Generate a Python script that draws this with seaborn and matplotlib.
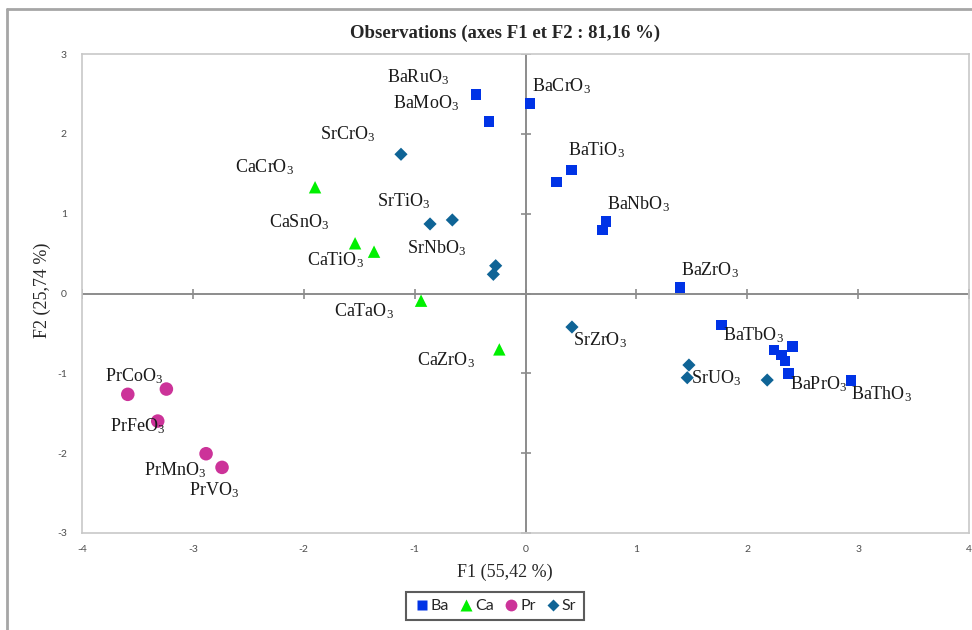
import numpy as np
import pandas as pd
import matplotlib
matplotlib.use("Agg")
import matplotlib.pyplot as plt
import seaborn as sns
from matplotlib.lines import Line2D

# ---------------- data ----------------
ba_f1 = [-0.446, 0.041, -0.329, 0.417, 0.281, 0.726, 0.696, 1.393, 1.767, 2.241, 2.310, 2.410, 2.340, 2.370, 2.935]
ba_f2 = [2.496, 2.383, 2.153, 1.548, 1.397, 0.900, 0.796, 0.073, -0.395, -0.708, -0.771, -0.667, -0.846, -1.000, -1.093]
ba_names = ["BaRuO3", "BaCrO3", "BaMoO3", "BaTiO3", "", "BaNbO3", "", "BaZrO3", "BaTbO3", "", "", "", "", "BaPrO3", "BaThO3"]

ca_f1 = [-1.898, -1.537, -1.366, -0.942, -0.236]
ca_f2 = [1.331, 0.629, 0.524, -0.090, -0.700]
ca_names = ["CaCrO3", "CaSnO3", "CaTiO3", "CaTaO3", "CaZrO3"]

pr_f1 = [-3.587, -3.239, -3.317, -2.881, -2.737]
pr_f2 = [-1.263, -1.197, -1.598, -2.007, -2.178]
pr_names = ["PrCoO3", "", "PrFeO3", "PrMnO3", "PrVO3"]

sr_f1 = [-1.123, -0.861, -0.660, -0.269, -0.290, 0.419, 1.474, 1.459, 2.180]
sr_f2 = [1.744, 0.871, 0.921, 0.348, 0.240, -0.420, -0.896, -1.055, -1.084]
sr_names = ["SrCrO3", "", "SrTiO3", "SrNbO3", "", "SrZrO3", "", "SrUO3", ""]

groups = ["Ba", "Ca", "Pr", "Sr"]
x_ticks = [-4, -3, -2, -1, 0, 1, 2, 3, 4]
y_ticks = [-3, -2, -1, 0, 1, 2, 3]

title = "Observations (axes F1 et F2 : 81,16 %)"
xlabel = "F1 (55,42 %)"
ylabel = "F2 (25,74 %)"

df = pd.concat([
    pd.DataFrame({"F1": ba_f1, "F2": ba_f2, "name": ba_names, "group": "Ba"}),
    pd.DataFrame({"F1": ca_f1, "F2": ca_f2, "name": ca_names, "group": "Ca"}),
    pd.DataFrame({"F1": pr_f1, "F2": pr_f2, "name": pr_names, "group": "Pr"}),
    pd.DataFrame({"F1": sr_f1, "F2": sr_f2, "name": sr_names, "group": "Sr"}),
], ignore_index=True)

# ---------------- style ----------------
colors = {"Ba": "#0033E6", "Ca": "#00F000", "Pr": "#CC3399", "Sr": "#0F6496"}
markers = {"Ba": "s", "Ca": "^", "Pr": "o", "Sr": "D"}
sizes = {"Ba": 60, "Ca": 80, "Pr": 95, "Sr": 45}
leg_ms = {"Ba": 7, "Ca": 8, "Pr": 8.5, "Sr": 6}

# label offsets (pixels) relative to their point
offsets = {
    "BaRuO3": (-58, 17), "BaMoO3": (-63, 18), "BaCrO3": (31, 17), "BaTiO3": (25, 20),
    "BaNbO3": (33, 17), "BaZrO3": (30, 18), "BaTbO3": (32, -10), "BaPrO3": (30, -11),
    "BaThO3": (31, -13),
    "SrCrO3": (-53, 20), "SrTiO3": (-49, 19), "SrNbO3": (-59, 18), "SrZrO3": (28, -13),
    "SrUO3": (29, 0),
    "CaCrO3": (-51, 20), "CaSnO3": (-56, 21), "CaTiO3": (-39, -8), "CaTaO3": (-57, -10),
    "CaZrO3": (-53, -11),
    "PrCoO3": (6, 18), "PrFeO3": (-20, -5), "PrMnO3": (-31, -16), "PrVO3": (-8, -23),
}

sns.set_theme(style="white")
plt.rcParams["font.family"] = ["Liberation Serif", "DejaVu Serif"]
plt.rcParams["mathtext.fontset"] = "custom"
plt.rcParams["mathtext.rm"] = "Liberation Serif"
plt.rcParams["mathtext.default"] = "regular"

W, H = 972, 630
fig = plt.figure(figsize=(W / 100, H / 100), dpi=100)
fig.patch.set_facecolor("white")
ax = fig.add_axes([82 / W, 1 - 533 / H, (969 - 82) / W, (533 - 54) / H])

ax.axhline(0, color="#8C8C8C", lw=1.4, zorder=1)
ax.axvline(0, color="#8C8C8C", lw=1.4, zorder=1)
ax.plot(np.zeros(len(y_ticks)), y_ticks, ls="none", marker="_", ms=7, mew=1.2, color="#8C8C8C", zorder=1)
ax.plot(x_ticks, np.zeros(len(x_ticks)), ls="none", marker="|", ms=7, mew=1.2, color="#8C8C8C", zorder=1)

for g in groups:
    sub = df[df["group"] == g]
    sns.scatterplot(data=sub, x="F1", y="F2", marker=markers[g], s=sizes[g],
                    color=colors[g], edgecolor="none", linewidth=0, ax=ax,
                    legend=False, zorder=3)

for _, r in df.iterrows():
    if r["name"]:
        txt = r["name"].replace("O3", "O$_3$")
        ax.annotate(txt, (r["F1"], r["F2"]), xytext=offsets[r["name"]],
                    textcoords="offset pixels", ha="center", va="center",
                    fontsize=13, color="#1a1a1a", zorder=4)

ax.set_xlim(-4, 4)
ax.set_ylim(-3, 3)
ax.set_xticks(x_ticks)
ax.set_yticks(y_ticks)
ax.set_xticklabels([str(t) for t in x_ticks])
ax.set_yticklabels([str(t) for t in y_ticks])
ax.tick_params(length=0, labelsize=7.5, colors="#4D4D4D")
ax.tick_params(axis="x", pad=9)
ax.tick_params(axis="y", pad=11)
for lab in ax.get_xticklabels() + ax.get_yticklabels():
    lab.set_fontfamily("Lato")
ax.set_xlabel("")
ax.set_ylabel("")
for sp in ax.spines.values():
    sp.set_color("#C8C8C8")
    sp.set_linewidth(1.2)
    sp.set_visible(True)

fig.text(505 / W, 1 - 33 / H, title, ha="center", va="center", fontsize=13.5, fontweight="bold")
fig.text(505 / W, 1 - 572 / H, xlabel, ha="center", va="center", fontsize=13)
fig.text(42 / W, 1 - 290 / H, ylabel, ha="center", va="center", fontsize=13, rotation=90)

handles = [Line2D([], [], ls="none", marker=markers[g], ms=leg_ms[g], color=colors[g], mec="none") for g in groups]
leg = fig.legend(handles, groups, loc="center", bbox_to_anchor=(495 / W, 1 - 606 / H),
                 ncol=4, frameon=True, fancybox=False, edgecolor="#333333",
                 prop={"family": "Lato", "size": 11.5}, handletextpad=0.05,
                 columnspacing=0.6, handlelength=1.0, borderpad=0.45)
leg.get_frame().set_linewidth(1.5)

fig.add_artist(Line2D([7 / W, 7 / W], [0, 1 - 9 / H], transform=fig.transFigure, color="#A6A6A6", lw=2))
fig.add_artist(Line2D([7 / W, 1], [1 - 9 / H, 1 - 9 / H], transform=fig.transFigure, color="#A6A6A6", lw=2))

fig.savefig("out.png", dpi=100, facecolor="white")
